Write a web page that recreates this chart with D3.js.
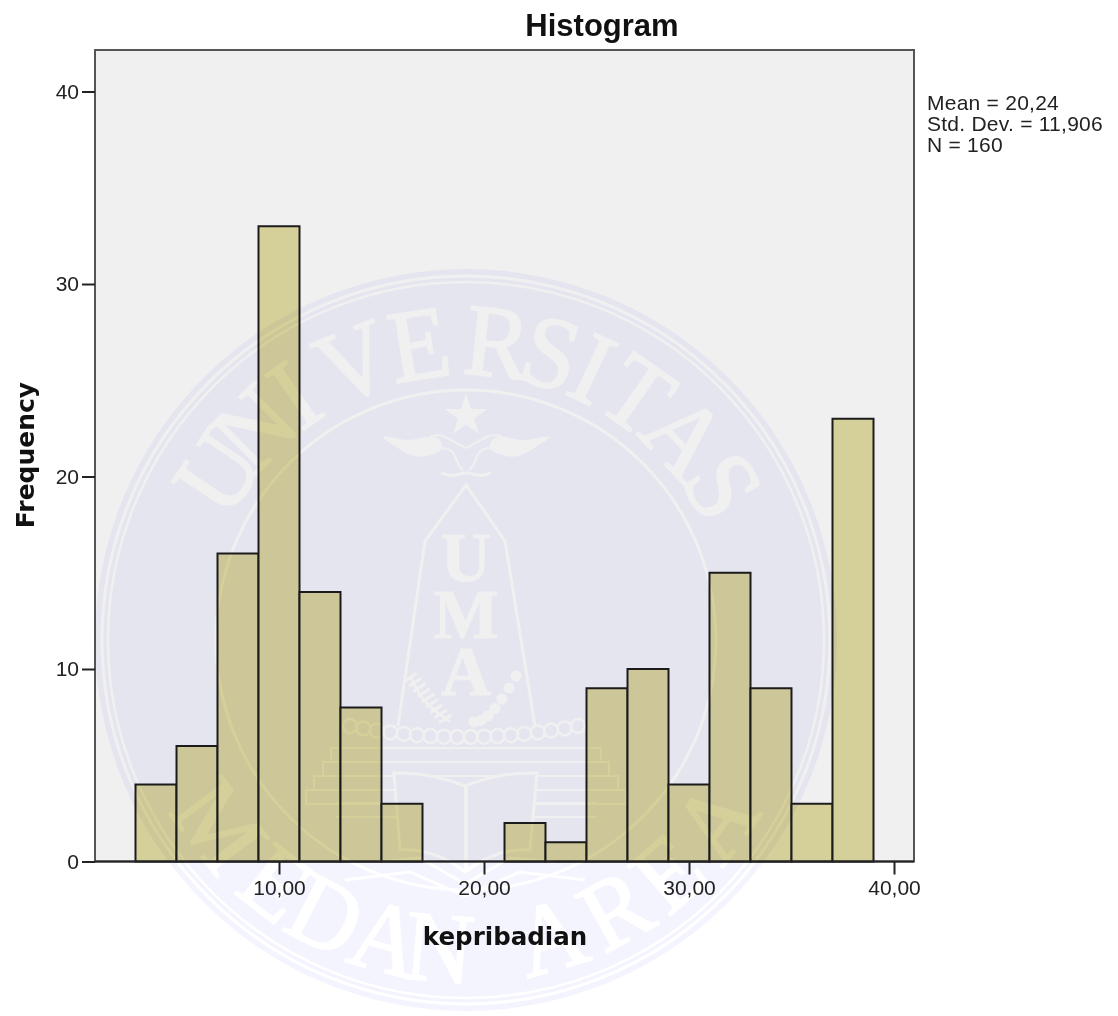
<!DOCTYPE html>
<html><head><meta charset="utf-8">
<script src="https://cdn.jsdelivr.net/npm/d3@7"></script>
<style>html,body{margin:0;padding:0;background:#fff}svg{display:block;filter:blur(.45px)}</style>
</head><body><svg id="c" width="1118" height="1016"></svg>
<script>
// ---- chart data ----
const binStarts   = [3,5,7,9,11,13,15,17,19,21,23,25,27,29,31,33,35,37];
const binWidth    = 2;
const frequencies = [4,6,16,33,14,8,3,0,0,2,1,9,10,4,15,9,3,23];
const xTicks      = [10,20,30,40];
const yTicks      = [0,10,20,30,40];
const statsLines  = ["Mean = 20,24","Std. Dev. = 11,906","N = 160"];
const titleText   = "Histogram";
const xLabel      = "kepribadian";
const yLabel      = "Frequency";
// ---- watermark lettering ----
const topLetters    = "UNIVERSITAS".split("");
const topAngles     = [-56,-45,-35,-22,-9,6,16.5,25,35,47,59];
const bottomLetters = "MEDANAREA".split("");
const bottomAngles  = [-53,-38,-27,-15,-5,16,29,41,54];
const crestLetters  = ["U","M","A"];

const svg = d3.select("#c");
const sans = "'Liberation Sans',Arial,sans-serif";
const x = d3.scaleLinear().domain([10,40]).range([279,894]);
const y = d3.scaleLinear().domain([0,40]).range([861.5,91.5]);
const plot = {l:95,r:914,t:50,b:861.5};
const comma = d3.format(".2f");

// plot background
svg.append("rect").attr("x",plot.l).attr("y",plot.t).attr("width",plot.r-plot.l).attr("height",plot.b-plot.t)
  .attr("fill","#f0f0f0").attr("stroke","#555").attr("stroke-width",2);

// bars
svg.append("g").selectAll("rect").data(binStarts.map((s,i)=>({s,f:frequencies[i]})).filter(d=>d.f>0)).join("rect")
  .attr("x",d=>x(d.s)).attr("width",d=>x(d.s+binWidth)-x(d.s))
  .attr("y",d=>y(d.f)).attr("height",d=>y(0)-y(d.f))
  .attr("fill","#d5cf99").attr("stroke","#1c1c1c").attr("stroke-width",2);

// axes
const gx = svg.append("g").attr("transform",`translate(0,${plot.b})`)
  .call(d3.axisBottom(x).tickValues(xTicks).tickSize(13).tickPadding(6).tickFormat(d=>comma(d).replace(".",",")));
const gy = svg.append("g").attr("transform",`translate(${plot.l},0)`)
  .call(d3.axisLeft(y).tickValues(yTicks).tickSize(13).tickPadding(3).tickFormat(d3.format("d")));
gx.select(".domain").remove(); gy.select(".domain").remove();
[gx,gy].forEach(g=>{
  g.selectAll("line").attr("stroke","#222").attr("stroke-width",2);
  g.selectAll("text").attr("font-family",sans).attr("font-size",21).attr("fill","#222");
});
svg.append("line").attr("x1",plot.l).attr("x2",plot.r).attr("y1",plot.b).attr("y2",plot.b).attr("stroke","#222").attr("stroke-width",2);

// titles
svg.append("text").attr("x",602).attr("y",36).attr("text-anchor","middle")
  .attr("font-family",sans).attr("font-weight","bold").attr("font-size",31).attr("fill","#111").text(titleText);
svg.append("text").attr("x",505).attr("y",945).attr("text-anchor","middle")
  .attr("font-family","'DejaVu Sans',sans-serif").attr("font-weight","bold").attr("font-size",24.5).attr("fill","#111").text(xLabel);
svg.append("text").attr("transform","translate(34,455) rotate(-90)").attr("text-anchor","middle")
  .attr("font-family","'DejaVu Sans',sans-serif").attr("font-weight","bold").attr("font-size",25).attr("fill","#111").text(yLabel);
svg.append("g").selectAll("text").data(statsLines).join("text")
  .attr("x",927).attr("y",(d,i)=>110+i*21).attr("font-family",sans).attr("font-size",21).attr("letter-spacing",.25).attr("fill","#222").text(d=>d);

// ---- watermark (a tinted disc with knocked-out emblem, over everything) ----
const cx=466, cy=640, R=371;
const defs = svg.append("defs");
const mask = defs.append("mask").attr("id","seal").attr("maskUnits","userSpaceOnUse")
  .attr("x",0).attr("y",0).attr("width",1118).attr("height",1016);
mask.append("rect").attr("width",1118).attr("height",1016).attr("fill","#000");
mask.append("circle").attr("cx",cx).attr("cy",cy).attr("r",R).attr("fill","#fff");
const ko = mask.append("g").attr("fill","#000").attr("stroke","none");
const ring = (r,w)=>ko.append("circle").attr("cx",cx).attr("cy",cy).attr("r",r).attr("fill","none").attr("stroke","#000").attr("stroke-width",w);
ring(364,3); ring(358,2.5); ring(250,3);

const serif="'Liberation Serif',serif";
topLetters.forEach((c,i)=>{
  ko.append("text").attr("transform",`translate(${cx},${cy}) rotate(${topAngles[i]}) translate(0,-265) scale(.95,1)`)
    .attr("text-anchor","middle").attr("font-family",serif).attr("font-size",103)
    .attr("stroke","#000").attr("stroke-width",2).text(c);
});
bottomLetters.forEach((c,i)=>{
  ko.append("text").attr("transform",`translate(${cx},${cy}) rotate(${-bottomAngles[i]}) translate(0,342) scale(.95,1)`)
    .attr("text-anchor","middle").attr("font-family",serif).attr("font-size",100)
    .attr("stroke","#000").attr("stroke-width",2).text(c);
});
// star
ko.append("path").attr("d",d3.symbol(d3.symbolStar,560)()).attr("transform",`translate(${cx},416)`);
// wings and bird
const line = d3.line().curve(d3.curveCatmullRomClosed);
const wing = s=>[[83,-3],[58,0],[36,-3],[27,-1],[24,8],[36,15],[52,16],[68,8]].map(p=>[cx+s*p[0],440+p[1]]);
[1,-1].forEach(s=>ko.append("path").attr("d",line(wing(s))));
const strokeLine = (pts,w,curve)=>ko.append("path").attr("d",d3.line().curve(curve||d3.curveLinear)(pts))
  .attr("fill","none").attr("stroke","#000").attr("stroke-width",w);
[1,-1].forEach(s=>strokeLine([[cx+s*36,-3+440],[cx+s*28,-6+440],[cx+s*16,-1+440],[cx+s*8,4+440],[cx,8+440]],2,d3.curveBasis));
[1,-1].forEach(s=>strokeLine([[cx+s*24,8+440],[cx+s*12,10+440],[cx+s*8,26+440],[cx+s*3,30+440]],2,d3.curveBasis));
strokeLine([[cx-25,473],[cx-14,477],[cx,471],[cx+14,477],[cx+25,473]],3,d3.curveBasis);
// obelisk
strokeLine([[398,726],[425,541],[cx,485],[505,541],[535,726]],3);
crestLetters.forEach((c,i)=>{
  ko.append("text").attr("x",cx).attr("y",[581,638,695][i]).attr("text-anchor","middle")
    .attr("font-family",serif).attr("font-weight","bold").attr("font-size",69)
    .attr("stroke","#000").attr("stroke-width",1.2).text(c);
});
// beads around the crest letters
d3.range(0,7).forEach(i=>{
  const t=i/6, qx=516-42*t, qy=676+46*Math.sin(t*Math.PI/2);
  ko.append("circle").attr("cx",qx).attr("cy",qy).attr("r",5.5);
});
d3.range(0,9).forEach(i=>{
  const t=i/8;
  strokeLine([[411+34*t-6,678+42*t+3],[411+34*t+6,678+42*t-5]],3);
});
strokeLine([[411,676],[420,700],[450,722]],2.5,d3.curveBasis);
// string of pearls
d3.range(0,18).forEach(i=>{
  const t=i/17, px=350+228*t, py=726+11*(1-Math.pow(2*t-1,2));
  ko.append("circle").attr("cx",px).attr("cy",py).attr("r",7).attr("fill","none").attr("stroke","#000").attr("stroke-width",2.5);
});
// stairs
[[748,135],[762,143],[776,152],[790,160]].forEach(([yy,hw])=>{
  ko.append("rect").attr("x",cx-hw).attr("y",yy).attr("width",2*hw).attr("height",14)
    .attr("fill","none").attr("stroke","#000").attr("stroke-width",2);
});
[803,817].forEach(yy=>strokeLine([[cx-130,yy],[cx+130,yy]],2));
// open book
ko.append("path").attr("fill","#fff").attr("stroke","#000").attr("stroke-width",3)
  .attr("d","M394 773 Q430 772 465 786 Q500 772 537 773 L530 850 Q495 848 465 872 Q435 848 400 850 Z");
strokeLine([[cx,786],[cx,872]],4);
strokeLine([[375,862],[420,858],[465,884],[510,858],[555,862]],3);
strokeLine([[345,880],[410,872],[465,896],[520,872],[585,880]],3);

svg.append("rect").attr("width",1118).attr("height",1016).attr("fill","#f4f4ff")
  .attr("mask","url(#seal)").style("mix-blend-mode","multiply");
</script></body></html>
